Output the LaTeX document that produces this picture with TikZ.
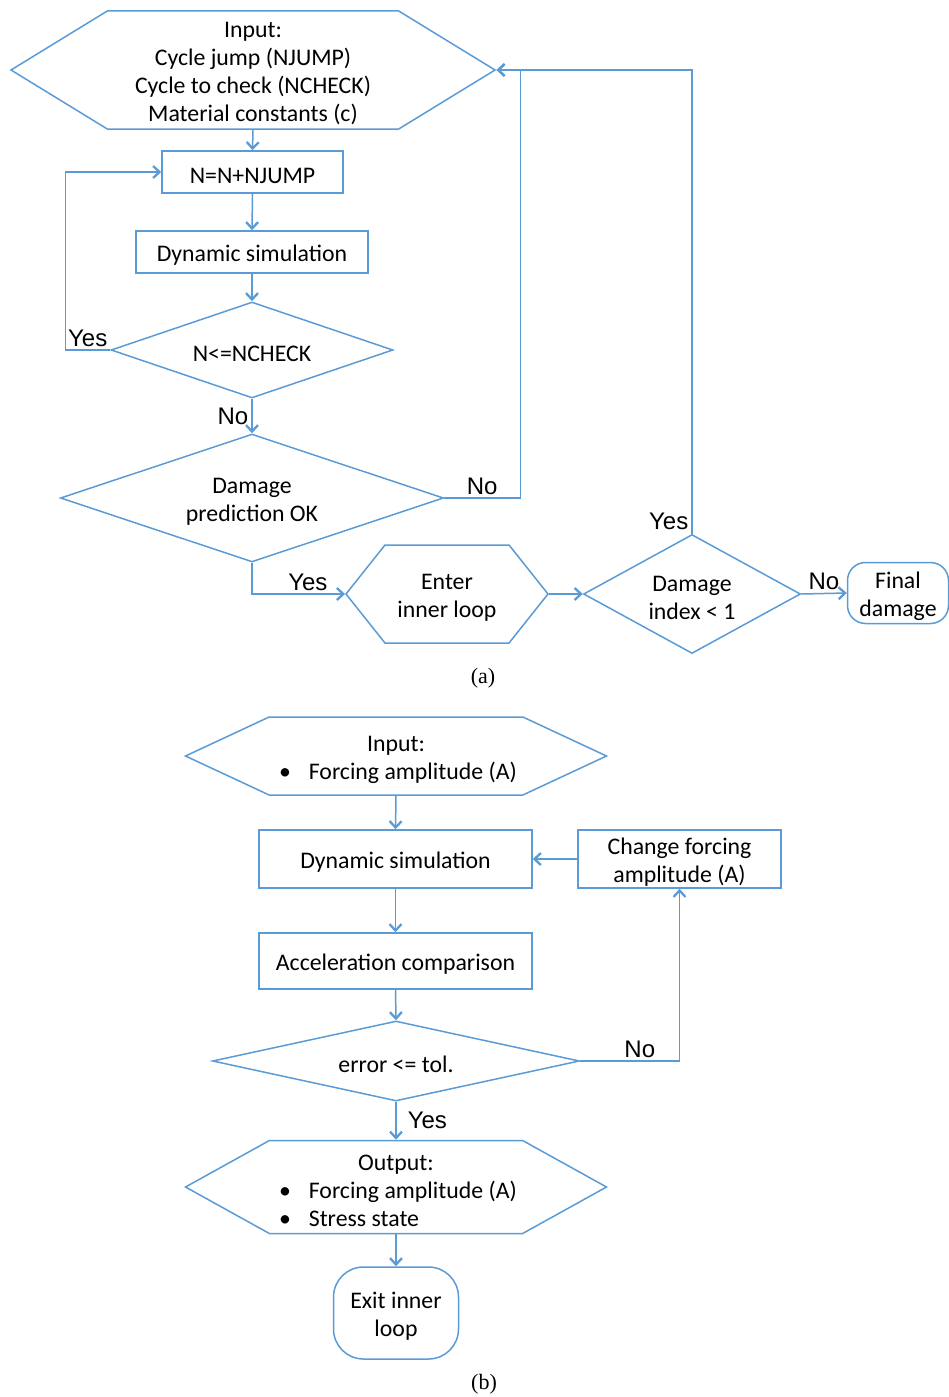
\documentclass[tikz,border=0pt]{standalone}
\usepackage{fontspec}
\setmainfont{Carlito}
\newfontfamily\labelfont{Liberation Sans}
\newfontfamily\capfont{Liberation Serif}
\usetikzlibrary{arrows.meta,shapes.geometric,shapes.symbols}
\definecolor{flowblue}{RGB}{91,155,213}
\newcommand{\bitem}[1]{\makebox[234pt][l]{\textbullet\hspace{18pt}#1}}
\begin{document}
\begin{tikzpicture}[x=1pt,y=-1pt,
    every node/.style={font=\fontsize{23.8}{28}\selectfont, align=center, inner sep=0pt},
    txt/.style={label={[yshift=-3.5pt]center:{#1}}},
    box/.style={draw=flowblue, line width=1.5pt, rectangle},
    hexa/.style={draw=flowblue, line width=1.5pt, signal, signal to=west and east},
    dia/.style={draw=flowblue, line width=1.5pt, diamond},
    term/.style={draw=flowblue, line width=1.5pt, rectangle},
    lbl/.style={font=\labelfont\fontsize{24}{28}\selectfont, inner sep=3pt},
    capt/.style={font=\capfont\fontsize{22}{26}\selectfont},
    arr/.style={draw=flowblue, line width=1.5pt, -{Straight Barb[length=6.5pt,width=12pt,line width=2.3pt]}}]
    \useasboundingbox (0,0) rectangle (948,1397);
    % (a) outer loop
    \node[hexa, minimum width=484pt, minimum height=118pt, signal pointer angle=63,
        txt={Input:\\Cycle jump (NJUMP)\\Cycle to check (NCHECK)\\Material constants (c)}] (in1) at (253,70) {};
    \node[box, minimum width=181pt, minimum height=42pt, txt={N=N+NJUMP}] (jump) at (252.5,172) {};
    \node[box, minimum width=232pt, minimum height=42pt, txt={Dynamic simulation}] (sim) at (252,252) {};
    \node[dia, aspect=2.94, minimum width=282pt, minimum height=96pt, txt={N<=NCHECK}] (chk) at (252,350) {};
    \node[dia, aspect=3, minimum width=383pt, minimum height=128pt, txt={Damage\\prediction OK}] (dmg) at (252,498) {};
    \node[hexa, minimum width=202pt, minimum height=98pt, signal pointer angle=103,
        txt={Enter\\inner loop}] (enter) at (447,594) {};
    \node[dia, aspect=1.82, minimum width=217pt, minimum height=119pt, txt={Damage\\index < 1}] (dix) at (692,594) {};
    \node[term, rounded corners=18pt, minimum width=101pt, minimum height=61pt,
        txt={Final\\damage}] (fin) at (898,593) {};
    \node[capt] (capa) at (483,678) {(a)};
    \draw[arr] (in1.south) -- (jump.north);
    \draw[arr] (jump.south) -- (sim.north);
    \draw[arr] (sim.south) -- (chk.north);
    \draw[arr] (chk.west) -- node[lbl, above]{Yes} ++(-45,0) |- (jump.west);
    \draw[arr] (chk.south) -- node[lbl, left]{No} (dmg.north);
    \draw[arr] (dmg.east) -- node[lbl, above]{No} ++(76,0) |- (in1.east);
    \draw[arr] (dmg.south) |- node[lbl, pos=0.8, above]{Yes} (enter.west);
    \draw[arr] (enter.east) -- (dix.west);
    \draw[arr] (dix.north) |- node[lbl, at start, above left]{Yes} (in1.east);
    \draw[arr] (dix.east) -- node[lbl, above]{No} (fin.west);
    % (b) inner loop
    \node[hexa, minimum width=421pt, minimum height=78pt, signal pointer angle=50,
        txt={Input:\\\bitem{Forcing amplitude (A)}}] (inb) at (396,756) {};
    \node[box, minimum width=273pt, minimum height=58pt, txt={Dynamic simulation}] (dsim) at (395.5,859) {};
    \node[box, minimum width=273pt, minimum height=56pt, txt={Acceleration comparison}] (acc) at (395.5,961) {};
    \node[box, minimum width=203pt, minimum height=58pt, txt={Change forcing\\amplitude (A)}] (chg) at (679.5,859) {};
    \node[dia, aspect=4.6, minimum width=367pt, minimum height=80pt, txt={error <= tol.}] (err) at (396,1061) {};
    \node[hexa, minimum width=421pt, minimum height=93pt, signal pointer angle=58,
        txt={Output:\\\bitem{Forcing amplitude (A)}\\\bitem{Stress state}}] (outb) at (396,1187) {};
    \node[term, rounded corners=30pt, minimum width=125pt, minimum height=92pt,
        txt={Exit inner\\loop}] (exit) at (396,1313) {};
    \node[capt] (capb) at (484,1384) {(b)};
    \draw[arr] (inb.south) -- (dsim.north);
    \draw[arr] (dsim.south) -- (acc.north);
    \draw[arr] (acc.south) -- (err.north);
    \draw[arr] (err.east) -| node[lbl, pos=0.3, above]{No} (chg.south);
    \draw[arr] (chg.west) -- (dsim.east);
    \draw[arr] (err.south) -- node[lbl, right, xshift=8pt]{Yes} (outb.north);
    \draw[arr] (outb.south) -- (exit.north);
\end{tikzpicture}
\end{document}
